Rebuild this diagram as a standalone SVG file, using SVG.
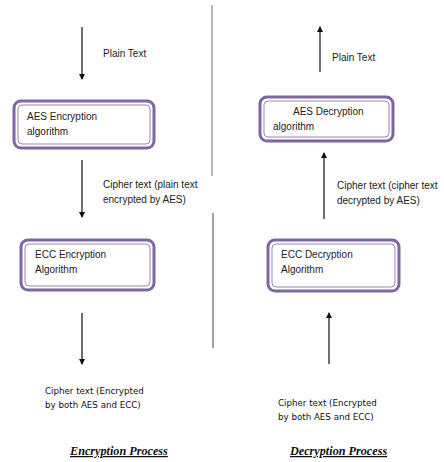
<svg xmlns="http://www.w3.org/2000/svg" width="444" height="462" viewBox="0 0 444 462">
<style>
.t{font-family:"Liberation Sans",Arial,sans-serif;font-size:10px;fill:#222}
.c{font-family:"DejaVu Sans",sans-serif;font-size:8.7px;fill:#111}
.h{font-family:"Liberation Serif","Times New Roman",serif;font-size:12.2px;font-weight:bold;font-style:italic;fill:#111;text-decoration:underline}
.ob{fill:#fff;stroke:#7f66a3;stroke-width:3}
.ib{fill:none;stroke:#9a85b8;stroke-width:1}
.a{stroke:#222;stroke-width:1.3;fill:none}
</style>
<defs>
<marker id="ah" markerWidth="6" markerHeight="6" refX="5" refY="3" orient="auto" markerUnits="userSpaceOnUse">
<path d="M0,0 L6,3 L0,6 Z" fill="#111"/>
</marker>
</defs>
<g id="divider">
<line x1="212" y1="5" x2="212" y2="176" stroke="#888" stroke-width="1.2"/>
<line x1="213" y1="213" x2="213" y2="348" stroke="#666" stroke-width="1.2"/>
</g>
<g id="connectors">
<line class="a" x1="82" y1="27" x2="82" y2="79" marker-end="url(#ah)"/>
<line class="a" x1="82" y1="160" x2="82" y2="217" marker-end="url(#ah)"/>
<line class="a" x1="82" y1="313" x2="82" y2="364" marker-end="url(#ah)"/>
<line class="a" x1="320" y1="72" x2="320" y2="27" marker-end="url(#ah)" stroke="#555"/>
<line class="a" x1="324" y1="219" x2="324" y2="153" marker-end="url(#ah)" stroke="#555"/>
<line class="a" x1="329" y1="364" x2="329" y2="313" marker-end="url(#ah)" stroke="#555"/>
</g>
<g id="lbl-plain-enc"><text class="t" x="103" y="57">Plain Text</text></g>
<g id="aes-enc">
<rect class="ob" x="14" y="101" width="140" height="47" rx="7"/>
<rect class="ib" x="18" y="105" width="132" height="39" rx="4"/>
<text class="t" x="27" y="120">AES Encryption</text>
<text class="t" x="27" y="135">algorithm</text>
</g>
<g id="lbl-cipher-enc">
<text class="t" x="103" y="188">Cipher text (plain text</text>
<text class="t" x="103" y="203">encrypted by AES)</text>
</g>
<g id="ecc-enc">
<rect class="ob" x="21" y="240" width="133" height="50" rx="7"/>
<rect class="ib" x="25" y="244" width="125" height="42" rx="4"/>
<text class="t" x="35" y="258">ECC Encryption</text>
<text class="t" x="35" y="273">Algorithm</text>
</g>
<g id="lbl-final-enc">
<text class="c" x="45" y="394">Cipher text (Encrypted</text>
<text class="c" x="45" y="408">by both AES and ECC)</text>
</g>
<g id="title-enc"><text class="h" x="70" y="455">Encryption Process</text></g>
<g id="lbl-plain-dec"><text class="t" x="332" y="61">Plain Text</text></g>
<g id="aes-dec">
<rect class="ob" x="260" y="97" width="133" height="44" rx="7"/>
<rect class="ib" x="264" y="101" width="125" height="36" rx="4"/>
<text class="t" x="293" y="115">AES Decryption</text>
<text class="t" x="273" y="130">algorithm</text>
</g>
<g id="lbl-cipher-dec">
<text class="t" x="337" y="189">Cipher text (cipher text</text>
<text class="t" x="337" y="204">decrypted by AES)</text>
</g>
<g id="ecc-dec">
<rect class="ob" x="268" y="240" width="131" height="51" rx="7"/>
<rect class="ib" x="272" y="244" width="123" height="43" rx="4"/>
<text class="t" x="281" y="258">ECC Decryption</text>
<text class="t" x="281" y="273">Algorithm</text>
</g>
<g id="lbl-final-dec">
<text class="c" x="278" y="406">Cipher text (Encrypted</text>
<text class="c" x="278" y="420">by both AES and ECC)</text>
</g>
<g id="title-dec"><text class="h" x="290" y="455">Decryption Process</text></g>
</svg>
